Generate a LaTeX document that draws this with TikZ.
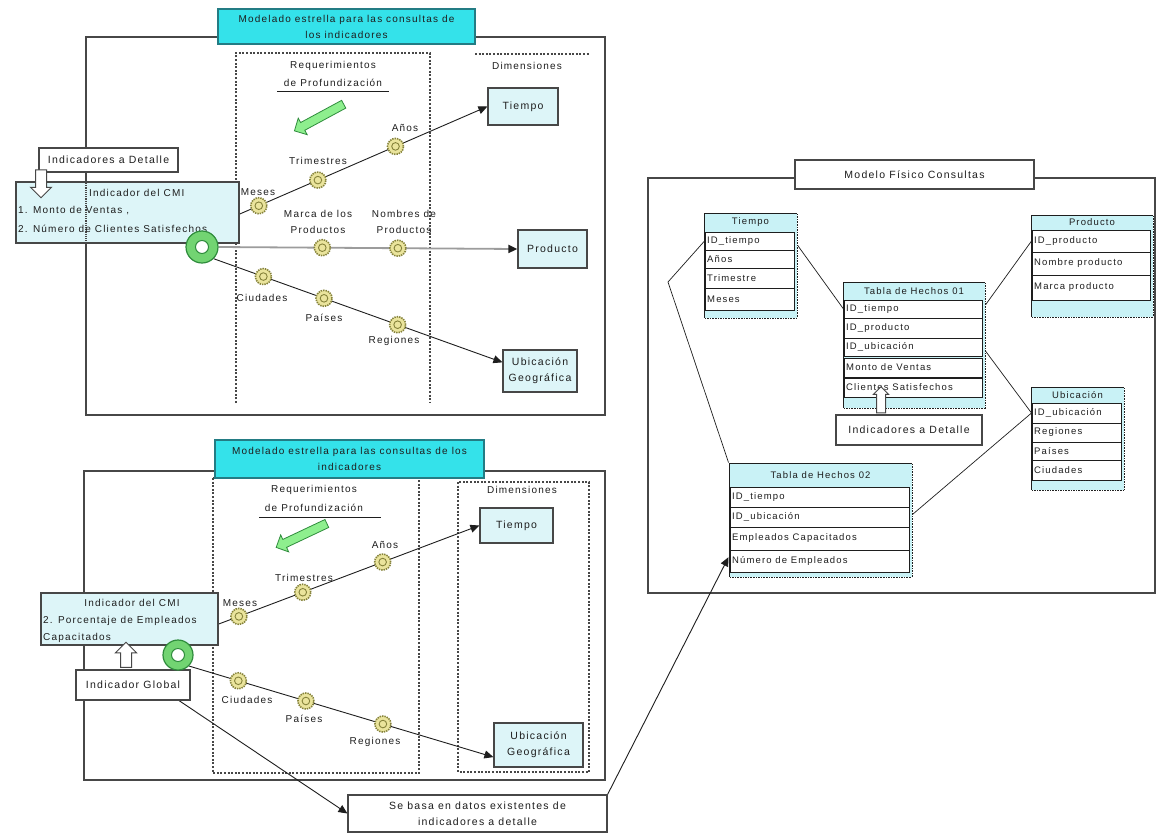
\documentclass[tikz,border=0pt]{standalone}
\usepackage{fontspec}
\setmainfont{Liberation Sans}[LetterSpace=12]
\usetikzlibrary{arrows.meta,shapes.arrows,calc}
\pgfdeclarelayer{back}
\pgfdeclarelayer{links}
\pgfsetlayers{back,links,main}

\definecolor{ink}{HTML}{1E1E1E}
\definecolor{framegray}{HTML}{474747}
\definecolor{titlecyan}{HTML}{34E2EA}
\definecolor{titleedge}{HTML}{237C84}
\definecolor{paleblue}{HTML}{DDF5F8}
\definecolor{tablecyan}{HTML}{C9F2F6}
\definecolor{gearfill}{HTML}{EAE49C}
\definecolor{gearedge}{HTML}{85823A}
\definecolor{hubfill}{HTML}{72D472}
\definecolor{hubedge}{HTML}{2F8C3C}
\definecolor{arrowgreen}{HTML}{8EEF8E}
\definecolor{linegray}{HTML}{9C9C9C}

\tikzset{
  every node/.style={font=\fontsize{10.5}{16}\selectfont, text=ink},
  panelframe/.style={draw=framegray, line width=1.4pt},
  titlebox/.style={draw=titleedge, fill=titlecyan, line width=1.2pt, align=center,
    inner sep=0pt, font=\fontsize{10}{16}\selectfont},
  dimbox/.style={draw=framegray, fill=paleblue, line width=1.2pt, align=center, inner sep=0pt},
  plainbox/.style={draw=framegray, fill=white, line width=1.2pt, align=center, inner sep=0pt},
  colline/.style={draw=framegray, line width=1.6pt, dash pattern=on 2pt off 1.6pt},
  tag/.style={inner sep=1pt, align=center, font=\fontsize{10}{16}\selectfont},
  linetext/.style={anchor=west, inner sep=0pt, font=\fontsize{10}{16}\selectfont},
  gearnode/.style={circle, minimum size=16pt, inner sep=0pt, fill=gearfill, draw=gearedge,
    line width=1.6pt, dash pattern=on 1.4pt off 1pt,
    path picture={\draw[gearedge, line width=0.9pt, solid]
      (path picture bounding box.center) circle (3.8pt);}},
  hubnode/.style={circle, minimum size=#1, inner sep=0pt, fill=hubfill, draw=hubedge,
    line width=1.2pt,
    path picture={\fill[white] (path picture bounding box.center) circle (6.5pt);
      \draw[hubedge, line width=1pt] (path picture bounding box.center) circle (6.5pt);}},
  hollowarrow/.style={single arrow, draw=framegray, fill=white, line width=1pt,
    inner xsep=0pt, inner ysep=5pt, single arrow head extend=5pt, minimum height=#1},
  greenarrow/.style={single arrow, draw=hubedge, fill=arrowgreen, line width=0.8pt,
    inner xsep=0pt, inner ysep=4pt, single arrow head extend=5pt, minimum height=56pt},
  tip/.style={-{Triangle[length=9pt,width=8pt]}},
  dimline/.style={draw=ink, line width=0.9pt, tip},
  prodline/.style={draw=linegray, line width=1.8pt, -{Triangle[length=9pt,width=8pt,fill=ink,color=ink]}},
  relline/.style={draw=ink, line width=0.7pt},
  refline/.style={draw=ink, line width=0.9pt, tip},
  tbl/.style={draw=ink, fill=tablecyan, line width=1pt, inner sep=0pt},
  tbledge/.style={draw=white, line width=0.9pt, dash pattern=on 1pt off 1.6pt},
  thead/.style={inner sep=0pt, font=\fontsize{9.5}{11}\selectfont},
  trow/.style={draw=ink, fill=white, line width=1pt, inner sep=0pt},
  rowtext/.style={anchor=west, inner sep=0pt, font=\fontsize{9.5}{11}\selectfont},
}

% database table: name, left x, right x, top y, bottom y, header bottom y, header
\newcommand{\dbtable}[7]{%
  \node[tbl, minimum width={#3-#2}, minimum height={#5-#4}] (#1) at ({(#2+#3)/2},{(#4+#5)/2}) {};
  \node[thead] (#1-h) at ({(#2+#3)/2},{(#4+#6)/2}) {#7};
  \draw[tbledge] (#1.north east) -- (#1.south east);
  \draw[tbledge] (#1.south west) -- (#1.south east);
}
% table row: name, left x, right x, top y, bottom y, text
\newcommand{\dbrow}[6]{%
  \node[trow, minimum width={#3-#2}, minimum height={#5-#4}] (#1) at ({(#2+#3)/2},{(#4+#5)/2}) {};
  \node[rowtext] (#1-t) at ([xshift=2.5pt]#1.west) {#6};
}

\begin{document}
\begin{tikzpicture}[x=1pt,y=-1pt]
\useasboundingbox (0,0) rectangle (1158,833);

% ---------- panel frames and dotted columns ----------
\begin{pgfonlayer}{back}
  \fill[white] (0,0) rectangle (1158,833);
  \draw[panelframe] (86,37) rectangle (605,415);
  \draw[colline] (236,403) -- (236,53) -- (430,53) -- (430,403);
  \draw[colline] (475,54) -- (590,54);

  \draw[panelframe] (84,471) rectangle (605,780);
  \draw[colline] (213,478) rectangle (419,773);
  \draw[colline] (458,482) rectangle (589,772);

  \draw[panelframe] (648,178) rectangle (1155,593);
\end{pgfonlayer}

% ================= upper star model =================
\node[titlebox, minimum width=257pt, minimum height=35pt] (titleA) at (346.5,26.5)
  {Modelado estrella para las consultas de\\los indicadores};
\node[tag] (reqA) at (333,66) {Requerimientos};
\node[tag] (profA) at (333,83) {de Profundización};
\draw[ink, line width=1pt] (277,91) -- (389,91);
\node[tag] (dimA) at (527,66) {Dimensiones};
\node[greenarrow, rotate=208.4] (grA) at (321,116.5) {};

\node[dimbox, minimum width=70pt, minimum height=37pt] (tiempoA) at (523,106.5) {Tiempo};
\node[dimbox, minimum width=69pt, minimum height=38pt] (productoA) at (552.5,249) {Producto};
\node[dimbox, minimum width=74pt, minimum height=42pt] (ubicA) at (540,371) {Ubicación\\Geográfica};

\node[plainbox, minimum width=139pt, minimum height=24pt] (detA) at (108.5,160) {Indicadores a Detalle};
\node[dimbox, minimum width=223pt, minimum height=61pt] (cmiA) at (127.5,212.5) {};
\draw[framegray, line width=1.2pt, densely dotted] (86,183) -- (86,242);
\node[linetext] (cmiA1) at (89,193) {Indicador del CMI};
\node[linetext] (cmiA2) at (18,211) {1. Monto de Ventas ,};
\node[linetext] (cmiA3) at (18,229) {2. Número de Clientes Satisfechos};
\node[hollowarrow=28pt, rotate=-90] (downA) at (41,181) {};
\node[hubnode=32pt] (hubA) at (202,247) {};

\node[tag] (mesesA) at (258,192) {Meses};
\node[tag] (trimA) at (318,161) {Trimestres};
\node[tag] (aniosA) at (405,128) {Años};
\node[tag] (marcaA) at (318,221.5) {Marca de los\\Productos};
\node[tag] (nombA) at (404,221.5) {Nombres de\\Productos};
\node[tag] (ciudA) at (262,298) {Ciudades};
\node[tag] (paisA) at (324,318) {Países};
\node[tag] (regA) at (394,341) {Regiones};

\begin{pgfonlayer}{links}
  \draw[dimline] (hubA.north) --
    node[gearnode, pos=0.199] (gMesA) {}
    node[gearnode, pos=0.406] (gTriA) {}
    node[gearnode, pos=0.678] (gAnoA) {} (tiempoA.west);
  \draw[prodline] (hubA.east) --
    node[gearnode, pos=0.347] (gMarA) {}
    node[gearnode, pos=0.6] (gNomA) {} (productoA.west);
  \draw[dimline] (hubA.south east) --
    node[gearnode, pos=0.172] (gCiuA) {}
    node[gearnode, pos=0.382] (gPaiA) {}
    node[gearnode, pos=0.637] (gRegA) {} (ubicA.167);
\end{pgfonlayer}

% ================= lower star model =================
\node[titlebox, minimum width=269pt, minimum height=38pt] (titleB) at (349.5,459)
  {Modelado estrella para las consultas de los\\indicadores};
\node[tag] (reqB) at (314,490) {Requerimientos};
\node[tag] (profB) at (314,508) {de Profundización};
\draw[ink, line width=1pt] (259,517) -- (381,517);
\node[tag] (dimB) at (522,490) {Dimensiones};
\node[greenarrow, rotate=205.3] (grB) at (303.5,534.5) {};

\node[dimbox, minimum width=73pt, minimum height=35pt] (tiempoB) at (516.5,525.5) {Tiempo};
\node[dimbox, minimum width=89pt, minimum height=44pt] (ubicB) at (538.5,745) {Ubicación\\Geográfica};

\node[dimbox, minimum width=177pt, minimum height=52pt] (cmiB) at (129.5,619) {};
\node[tag] (cmiB1) at (132,603) {Indicador del CMI};
\node[linetext] (cmiB2) at (43,621) {2. Porcentaje de Empleados};
\node[linetext] (cmiB3) at (43,638) {Capacitados};
\node[plainbox, minimum width=114pt, minimum height=30pt] (globB) at (133,685) {Indicador Global};
\node[hollowarrow=25pt, rotate=90] (upB) at (126,657.5) {};
\node[hubnode=30pt] (hubB) at (178,655) {};

\node[tag] (aniosB) at (385,545) {Años};
\node[tag] (trimB) at (304,578) {Trimestres};
\node[tag] (mesesB) at (240,603) {Meses};
\node[tag] (ciudB) at (247,700) {Ciudades};
\node[tag] (paisB) at (304,719) {Países};
\node[tag] (regB) at (375,742) {Regiones};

\node[plainbox, minimum width=259pt, minimum height=37pt] (basa) at (477.5,813.5)
  {Se basa en datos existentes de\\indicadores a detalle};

\begin{pgfonlayer}{links}
  \draw[dimline] (hubB.north) --
    node[gearnode, pos=0.202] (gMesB) {}
    node[gearnode, pos=0.414] (gTriB) {}
    node[gearnode, pos=0.679] (gAnoB) {} (tiempoB.west);
  \draw[dimline] (hubB.south east) --
    node[gearnode, pos=0.162] (gCiuB) {}
    node[gearnode, pos=0.384] (gPaiB) {}
    node[gearnode, pos=0.637] (gRegB) {} (ubicB.195);
\end{pgfonlayer}

% ================= physical model =================
\node[plainbox, minimum width=239pt, minimum height=29pt] (titleC) at (914.5,174.5) {Modelo Físico Consultas};

\dbtable{tT}{704}{797}{213}{318}{232}{Tiempo}
\dbrow{tTid}{705}{794}{232}{250}{ID\_tiempo}
\dbrow{tTan}{705}{794}{250}{268}{Años}
\dbrow{tTtr}{705}{794}{268}{288}{Trimestre}
\dbrow{tTme}{705}{794}{288}{310}{Meses}

\dbtable{tP}{1031}{1153}{215}{317}{230}{Producto}
\dbrow{tPid}{1032}{1150}{230}{252}{ID\_producto}
\dbrow{tPno}{1032}{1150}{252}{275}{Nombre producto}
\dbrow{tPma}{1032}{1150}{275}{300}{Marca producto}

\dbtable{tU}{1031}{1124}{387}{490}{403}{Ubicación}
\dbrow{tUid}{1032}{1121}{403}{423}{ID\_ubicación}
\dbrow{tUre}{1032}{1121}{423}{442}{Regiones}
\dbrow{tUpa}{1032}{1121}{442}{460}{Países}
\dbrow{tUci}{1032}{1121}{460}{480}{Ciudades}

\dbtable{tH1}{843}{985}{282}{408}{300}{Tabla de Hechos 01}
\dbrow{tH1id}{844}{982}{300}{318}{ID\_tiempo}
\dbrow{tH1pr}{844}{982}{318}{338}{ID\_producto}
\dbrow{tH1ub}{844}{982}{338}{356}{ID\_ubicación}
\dbrow{tH1mo}{844}{982}{358}{377}{Monto de Ventas}
\dbrow{tH1cl}{844}{982}{378}{397}{Clientes Satisfechos}

\dbtable{tH2}{729}{912}{463}{577}{487}{Tabla de Hechos 02}
\dbrow{tH2id}{730}{909}{487}{507}{ID\_tiempo}
\dbrow{tH2ub}{730}{909}{507}{527}{ID\_ubicación}
\dbrow{tH2em}{730}{909}{527}{550}{Empleados Capacitados}
\dbrow{tH2nu}{730}{909}{550}{572}{Número de Empleados}

\node[plainbox, minimum width=146pt, minimum height=30pt] (detC) at (909,430) {Indicadores a Detalle};
\node[hollowarrow=26pt, rotate=90, inner ysep=4pt, single arrow head extend=3pt] (upC) at (881,402) {};

\coordinate (bendT) at (668,282);
\begin{pgfonlayer}{links}
  \draw[relline] (tTid.west) -- (bendT) -- (tH2.north west);
  \draw[relline] (tTid.east) -- (tH1id.west);
  \draw[relline] (tH1id.east) -- (tPid.west);
  \draw[relline] (tH1ub.east) -- (tUid.west);
  \draw[relline] (tH2ub.east) -- (tUid.west);
  \draw[refline] ($(globB.south)!0.8!(globB.south east)$) -- (basa.west);
  \draw[refline] (basa.north east) -- (tH2.202);
\end{pgfonlayer}

\end{tikzpicture}
\end{document}
